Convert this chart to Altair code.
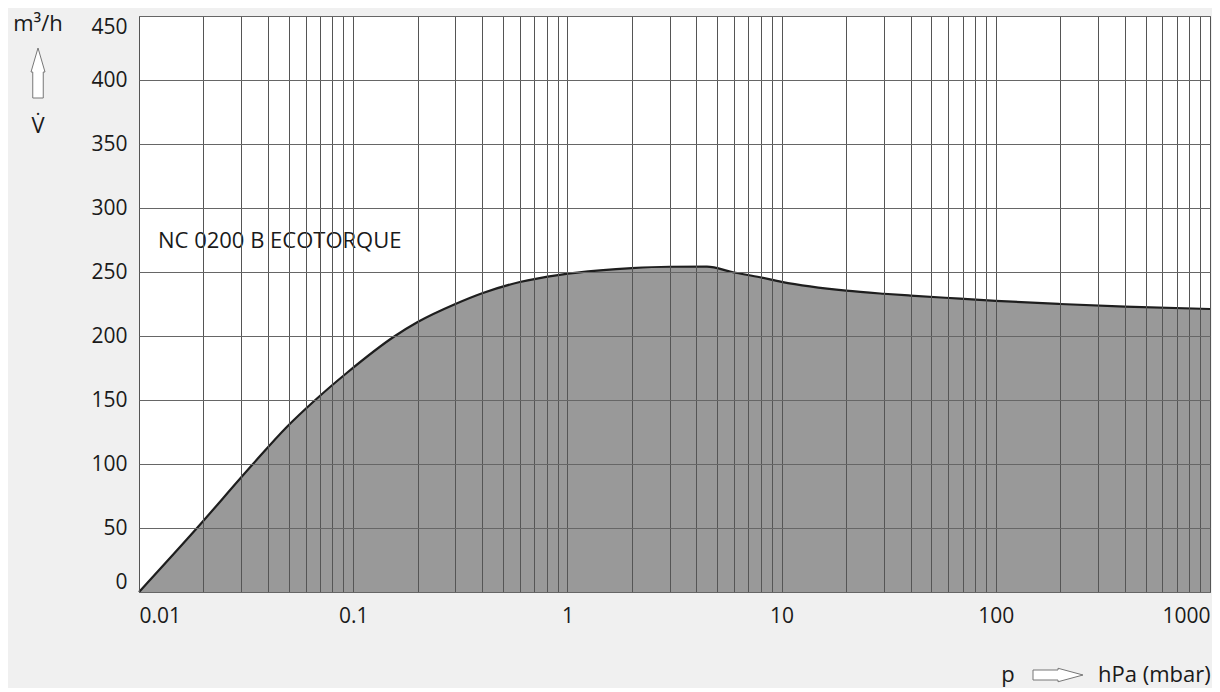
import altair as alt
import pandas as pd

# Pumping speed curve
pressure = [0.01, 0.01866, 0.03405, 0.04909, 0.06632, 0.09357, 0.1567, 0.2, 0.3,
            0.4, 0.6, 0.92, 1.42, 2.0, 3.0, 4.48, 5.932, 7.929, 10, 20,
            30, 40, 68.1, 100, 200, 400, 1000]
flow = [0, 50, 100, 129.1, 149.8, 171.3, 200, 210.9, 225, 233.4, 242.2, 247.8,
        251.3, 253.1, 254.1, 254.2, 249.8, 245.9, 242.3, 235.4, 233.0, 231.6, 229.2,
        227.5, 225, 222.9, 221.1]

y_ticks = [0, 50, 100, 150, 200, 250, 300, 350, 400, 450]
x_grid = [0.01, 0.02, 0.03, 0.04, 0.05, 0.06, 0.07, 0.08, 0.09,
          0.1, 0.2, 0.3, 0.4, 0.5, 0.6, 0.7, 0.8, 0.9,
          1, 2, 3, 4, 5, 6, 7, 8, 9,
          10, 20, 30, 40, 50, 60, 70, 80, 90,
          100, 200, 300, 400, 500, 600, 700, 800, 900, 1000]
x_labels = [0.01, 0.1, 1, 10, 100, 1000]

model_label = "NC 0200 B ECOTORQUE"
y_unit = "m³/h"
y_symbol = "V̇"
x_symbol = "p"
x_unit = "hPa (mbar)"

FONT = "Open Sans"
FS = 21
FS_TXT = 22
TXT = "#1a1a1a"

df = pd.DataFrame({"p": pressure, "v": flow})

label_list = ",".join(str(v) for v in x_labels)

area = alt.Chart(df).mark_area(
    color="#999999", opacity=1, interpolate="monotone",
    line={"color": "#1e1e1e", "strokeWidth": 2.2},
).encode(
    x=alt.X("p:Q", scale=alt.Scale(type="log", domain=[0.01, 1000], nice=False),
            axis=alt.Axis(values=x_grid, format="~g",
                          labelExpr=f"indexof([{label_list}], datum.value) >= 0 ? datum.label : ''",
                          labelFlush=True, labelOverlap=False, labelPadding=13,
                          labelFont=FONT, labelFontSize=FS, labelColor=TXT,
                          ticks=False, domain=False, title=None, zindex=1,
                          grid=True, gridColor="#555555", gridWidth=1, gridOpacity=1)),
    y=alt.Y("v:Q", scale=alt.Scale(domain=[0, 450], nice=False),
            axis=alt.Axis(values=y_ticks, labelFlush=True, labelPadding=12,
                          labelFont=FONT, labelFontSize=FS, labelColor=TXT,
                          ticks=False, domain=False, title=None, zindex=1,
                          grid=True, gridColor="#666666", gridWidth=1, gridOpacity=1)),
)


def text_layer(label, x, y, align="center", size=FS_TXT):
    return alt.Chart(pd.DataFrame({"t": [label]})).mark_text(
        align=align, baseline="middle", font=FONT, fontSize=size, color=TXT
    ).encode(text="t:N", x=alt.value(x), y=alt.value(y))


up_arrow = "M 0 -1 L 0.28 -0.04 L 0.21 -0.04 L 0.21 1 L -0.21 1 L -0.21 -0.04 L -0.28 -0.04 Z"
right_arrow = "M 1 0 L 0 -0.27 L 0 -0.2 L -1 -0.2 L -1 0.2 L 0 0.2 L 0 0.27 Z"


def arrow_layer(shape, x, y):
    return alt.Chart(pd.DataFrame({"a": [0]})).mark_point(
        shape=shape, size=2500, filled=True, fill="white", stroke="#777777",
        strokeWidth=1, opacity=1
    ).encode(x=alt.value(x), y=alt.value(y))


chart = alt.layer(
    area,
    text_layer(model_label, 19, 225, align="left"),
    text_layer(y_unit, -101, 8),
    arrow_layer(up_arrow, -101, 57),
    text_layer(y_symbol, -101, 110),
    text_layer(x_symbol, 869, 659),
    arrow_layer(right_arrow, 919, 659),
    text_layer(x_unit, 959, 659, align="left"),
).properties(
    width=1071, height=576,
    autosize=alt.AutoSizeParams(type="none"),
    padding={"left": 131, "top": 8, "right": 2, "bottom": 96},
    background="#f0f0f0",
).configure_view(fill="white", stroke="#666666", strokeWidth=1)

chart.save("out.html", embed_options={"renderer": "svg", "actions": False})
